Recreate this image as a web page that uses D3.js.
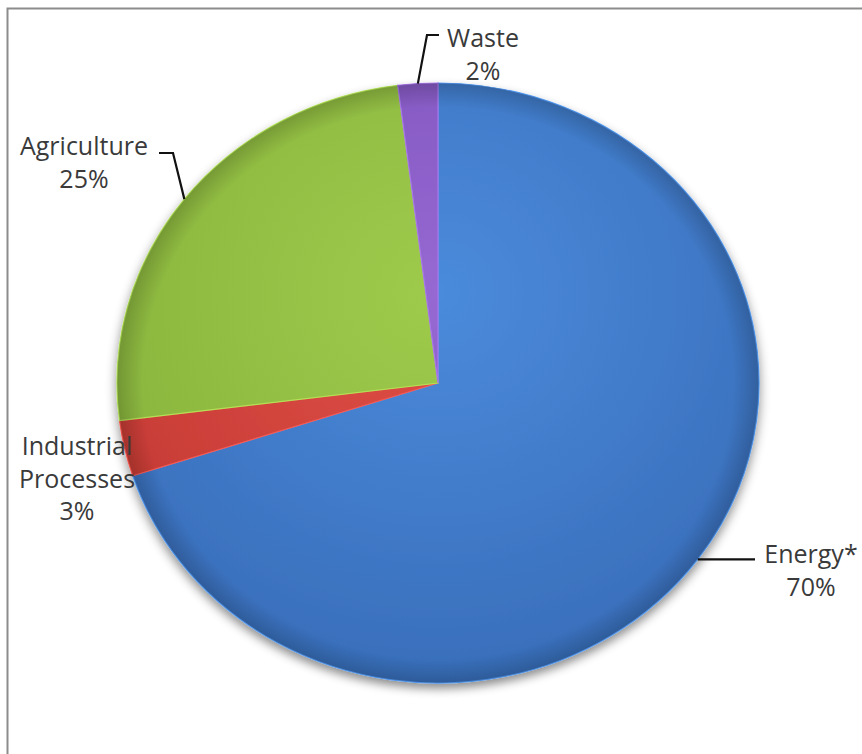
<!DOCTYPE html>
<html>
<head>
<meta charset="utf-8">
<script src="https://cdnjs.cloudflare.com/ajax/libs/d3/7.8.5/d3.min.js"></script>
<title>Emissions by sector</title>
<style>
  body{ margin: 0; background-color: #fff; }
  text{ font-family: "Open Sans", sans-serif; font-size: 25px; fill: #3a3a3a; }
</style>
</head>
<body>
<script>
var sectors = ["Energy*", "Industrial Processes", "Agriculture", "Waste"],
    shares  = [70, 3, 25, 2],
    labels  = [["Energy*", "70%"], ["Industrial", "Processes", "3%"], ["Agriculture", "25%"], ["Waste", "2%"]];

var w = 862, h = 754,
    cx = 438, cy = 383,
    r = 300,
    sx = 1.07;     // pie is a little wider than tall

// colour pairs: light, dark
var colors = [["#4b8bdb", "#376cb8"], ["#e04f48", "#c13831"], ["#9fcb4c", "#84b03a"], ["#9669d2", "#774bb6"]];

// where each label block sits, and the elbow of its leader line
var layout = [
  {x: 811, y: 563, elbow: [[755, 0]]},
  {x: 77,  y: 455, elbow: null},
  {x: 84,  y: 155, elbow: [[173, 153], [159, 153]]},
  {x: 483, y: 47,  elbow: [[427, 35], [439, 35]]}
];

var svg = d3.select("body").append("svg")
    .attr("width", w)
    .attr("height", h);

var defs = svg.append("defs");

defs.append("filter").attr("id", "shadow")
    .attr("x", "-10%").attr("y", "-10%").attr("width", "120%").attr("height", "125%")
  .append("feDropShadow")
    .attr("dx", 0).attr("dy", 5).attr("stdDeviation", 5)
    .attr("flood-color", "#000").attr("flood-opacity", 0.45);

colors.forEach(function(c, i){
  var g = defs.append("radialGradient").attr("id", "grad" + i)
      .attr("gradientUnits", "userSpaceOnUse")
      .attr("cx", 0).attr("cy", -r * 0.3).attr("r", r * 1.4);
  g.append("stop").attr("offset", "0%").attr("stop-color", c[0]);
  g.append("stop").attr("offset", "100%").attr("stop-color", c[1]);
});

// soft dark rim, like the bevel on the original
var rim = defs.append("radialGradient").attr("id", "rim")
    .attr("gradientUnits", "userSpaceOnUse")
    .attr("cx", 0).attr("cy", 0).attr("r", r);
rim.append("stop").attr("offset", "92%").attr("stop-color", "#000").attr("stop-opacity", 0);
rim.append("stop").attr("offset", "100%").attr("stop-color", "#000").attr("stop-opacity", 0.18);

// frame, only top and left edges show
svg.append("rect")
    .attr("x", 7.5).attr("y", 8.5)
    .attr("width", 900).attr("height", 800)
    .attr("fill", "none")
    .attr("stroke", "#8c8c8c")
    .attr("stroke-width", 2);

var pie = d3.pie().sort(null).value(function(d){ return d; });
var arcs = pie(shares);

var arc = d3.arc().innerRadius(0).outerRadius(r);

var g = svg.append("g")
    .attr("transform", "translate(" + cx + "," + cy + ") scale(" + sx + ",1)");

g.append("g").attr("filter", "url(#shadow)")
  .selectAll("path")
  .data(arcs)
  .enter().append("path")
    .attr("d", arc)
    .attr("fill", function(d, i){ return "url(#grad" + i + ")"; })
    .attr("stroke", function(d, i){ return d3.color(colors[i][0]).brighter(0.3); })
    .attr("stroke-width", 1.2);

g.append("g")
  .selectAll("path")
  .data(arcs)
  .enter().append("path")
    .attr("d", arc)
    .attr("fill", "url(#rim)")
    .attr("pointer-events", "none");

// point on the rim at the middle of a slice, in page coords
function rimPoint(d){
  var a = (d.startAngle + d.endAngle) / 2;
  return [cx + Math.sin(a) * r * sx, cy - Math.cos(a) * r];
}

arcs.forEach(function(d, i){
  var lay = layout[i];
  if (lay.elbow) {
    var p = rimPoint(d),
        pts = [p].concat(lay.elbow.map(function(e){ return [e[0], e[1] || p[1]]; }));
    svg.append("path")
        .attr("d", d3.line()(pts))
        .attr("fill", "none")
        .attr("stroke", "#111")
        .attr("stroke-width", 2.2);
  }
  var t = svg.append("text")
      .attr("text-anchor", "middle")
      .attr("x", lay.x).attr("y", lay.y);
  labels[i].forEach(function(s, k){
    t.append("tspan")
        .attr("x", lay.x)
        .attr("dy", k ? 32.5 : 0)
        .text(s);
  });
});
</script>
</body>
</html>
